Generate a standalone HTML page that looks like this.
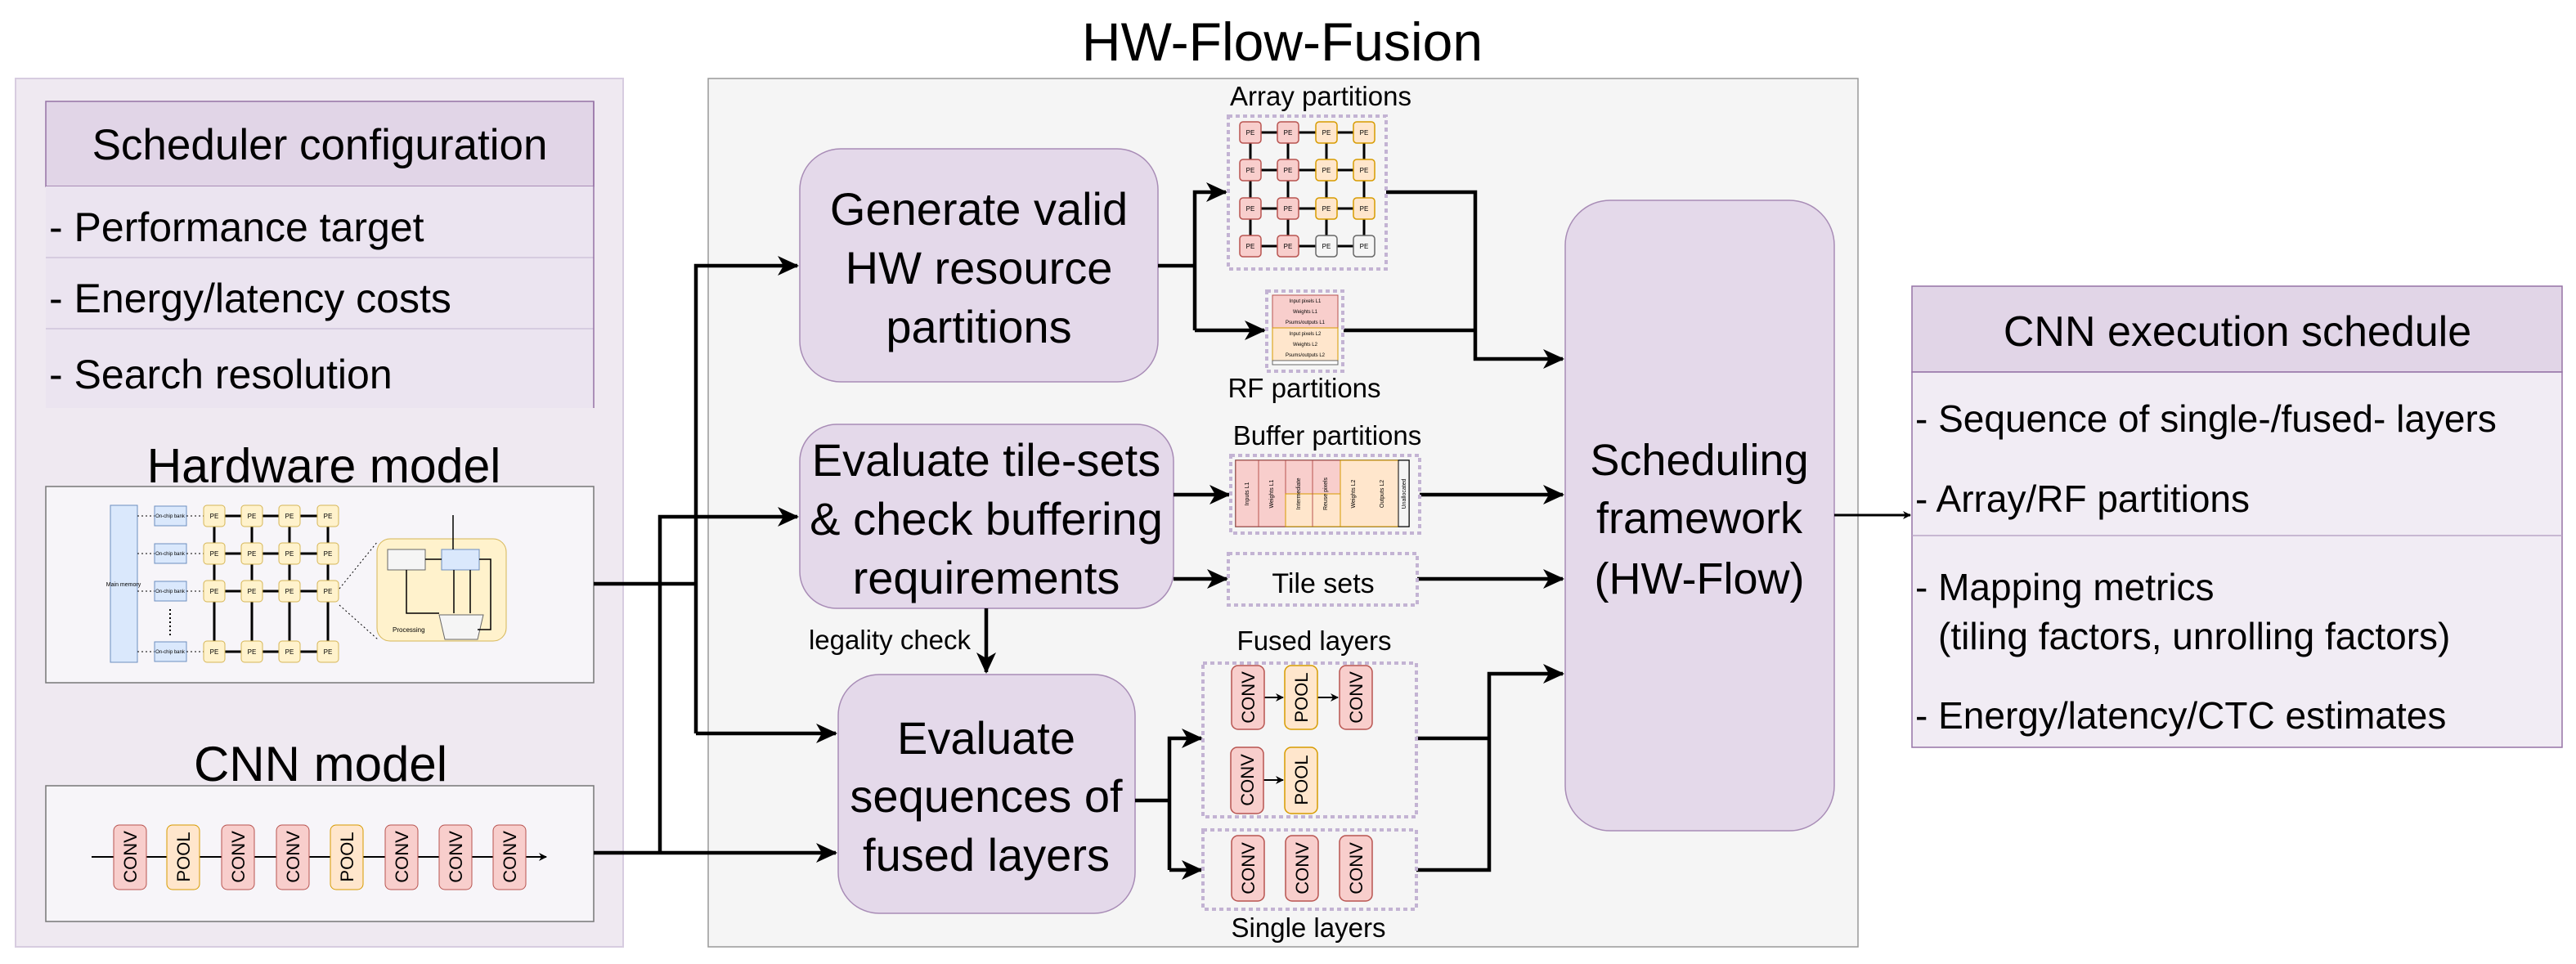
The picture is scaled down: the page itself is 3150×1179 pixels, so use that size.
<!DOCTYPE html>
<html><head><meta charset="utf-8"><style>
html,body{margin:0;padding:0;background:#fff;}
svg{display:block;font-family:"Liberation Sans",sans-serif;}
</style></head><body>
<svg width="3150" height="1179" viewBox="0 0 3150 1179" xmlns="http://www.w3.org/2000/svg">
<defs>
<marker id="a" markerWidth="10" markerHeight="10" refX="9" refY="5" orient="auto" markerUnits="userSpaceOnUse" viewBox="0 0 10 10">
<path d="M0,0 L10,5 L0,10 L3,5 z" fill="#000"/></marker>
<marker id="A" markerWidth="26" markerHeight="24" refX="24" refY="12" orient="auto" markerUnits="userSpaceOnUse" viewBox="0 0 26 24">
<path d="M0,0 L26,12 L0,24 L7,12 z" fill="#000"/></marker>
</defs>

<text x="1568" y="74" font-size="66" text-anchor="middle">HW-Flow-Fusion</text>

<!-- Left panel -->
<rect x="19" y="96" width="743" height="1062" fill="#efe9f1" stroke="#d7cce0" stroke-width="2"/>
<rect x="56" y="124" width="670" height="104" fill="#e1d5e7" stroke="#9673a6" stroke-width="1.5"/>
<rect x="56" y="228" width="670" height="271" fill="#ebe4f0"/>
<line x1="56" y1="315" x2="726" y2="315" stroke="#d0c4da" stroke-width="1.5"/>
<line x1="56" y1="402" x2="726" y2="402" stroke="#d0c4da" stroke-width="1.5"/>
<line x1="726" y1="124" x2="726" y2="499" stroke="#9673a6" stroke-width="1.5"/>
<text x="391" y="195" font-size="53" text-anchor="middle">Scheduler configuration</text>
<text x="60" y="295" font-size="50">- Performance target</text>
<text x="60" y="382" font-size="50">- Energy/latency costs</text>
<text x="60" y="475" font-size="50">- Search resolution</text>

<text x="396" y="590" font-size="59" text-anchor="middle">Hardware model</text>
<rect x="56" y="595" width="670" height="240" fill="#f7f5f9" stroke="#777" stroke-width="1.5"/>
<!-- hw mini diagram -->
<rect x="135" y="618" width="33" height="192" fill="#dae8fc" stroke="#6c8ebf"/>
<text x="151" y="717" font-size="7" text-anchor="middle">Main memory</text>
<g fill="#dae8fc" stroke="#6c8ebf">
<rect x="189" y="619" width="39" height="24"/><rect x="189" y="665" width="39" height="24"/>
<rect x="189" y="711" width="39" height="24"/><rect x="189" y="785" width="39" height="24"/></g>
<g font-size="6" text-anchor="middle"><text x="208" y="633">On-chip bank</text><text x="208" y="679">On-chip bank</text><text x="208" y="725">On-chip bank</text><text x="208" y="799">On-chip bank</text></g>
<g stroke="#000" stroke-width="1" stroke-dasharray="2,3">
<line x1="168" y1="631" x2="189" y2="631"/><line x1="168" y1="677" x2="189" y2="677"/><line x1="168" y1="723" x2="189" y2="723"/><line x1="168" y1="797" x2="189" y2="797"/>
<line x1="228" y1="631" x2="249" y2="631"/><line x1="228" y1="677" x2="249" y2="677"/><line x1="228" y1="723" x2="249" y2="723"/><line x1="228" y1="797" x2="249" y2="797"/>
<line x1="415" y1="720" x2="462" y2="662"/><line x1="415" y1="740" x2="462" y2="782"/>
<line x1="208" y1="745" x2="208" y2="780" stroke-width="2"/></g>
<g stroke="#000" stroke-width="3">
<line x1="262" y1="631" x2="401" y2="631"/><line x1="262" y1="677" x2="401" y2="677"/><line x1="262" y1="723" x2="401" y2="723"/><line x1="262" y1="797" x2="401" y2="797"/>
<line x1="262" y1="631" x2="262" y2="797"/><line x1="308" y1="631" x2="308" y2="797"/><line x1="354" y1="631" x2="354" y2="797"/><line x1="401" y1="631" x2="401" y2="797"/></g>
<g fill="#fff2cc" stroke="#d6b656">
<rect x="249" y="618" width="26" height="26" rx="4"/><rect x="295" y="618" width="26" height="26" rx="4"/><rect x="341" y="618" width="26" height="26" rx="4"/><rect x="388" y="618" width="26" height="26" rx="4"/>
<rect x="249" y="664" width="26" height="26" rx="4"/><rect x="295" y="664" width="26" height="26" rx="4"/><rect x="341" y="664" width="26" height="26" rx="4"/><rect x="388" y="664" width="26" height="26" rx="4"/>
<rect x="249" y="710" width="26" height="26" rx="4"/><rect x="295" y="710" width="26" height="26" rx="4"/><rect x="341" y="710" width="26" height="26" rx="4"/><rect x="388" y="710" width="26" height="26" rx="4"/>
<rect x="249" y="784" width="26" height="26" rx="4"/><rect x="295" y="784" width="26" height="26" rx="4"/><rect x="341" y="784" width="26" height="26" rx="4"/><rect x="388" y="784" width="26" height="26" rx="4"/>
<rect x="461" y="659" width="158" height="125" rx="16"/></g>
<g font-size="8" text-anchor="middle"><text x="262" y="634">PE</text><text x="308" y="634">PE</text><text x="354" y="634">PE</text><text x="401" y="634">PE</text>
<text x="262" y="680">PE</text><text x="308" y="680">PE</text><text x="354" y="680">PE</text><text x="401" y="680">PE</text>
<text x="262" y="726">PE</text><text x="308" y="726">PE</text><text x="354" y="726">PE</text><text x="401" y="726">PE</text>
<text x="262" y="800">PE</text><text x="308" y="800">PE</text><text x="354" y="800">PE</text><text x="401" y="800">PE</text></g>
<rect x="474" y="672" width="46" height="25" fill="#f5f5f5" stroke="#666"/>
<rect x="540" y="672" width="46" height="25" fill="#dae8fc" stroke="#6c8ebf"/>
<path d="M537,752 L591,752 L584,782 L544,782 z" fill="#f5f5f5" stroke="#666"/>
<g stroke="#000" stroke-width="1.5" fill="none"><polyline points="520,684 540,684"/><polyline points="497,697 497,750 537,750"/><polyline points="555,697 555,750"/><polyline points="575,697 575,750"/><polyline points="554,630 554,672"/><polyline points="584,770 600,770 600,684 586,684"/></g>
<text x="480" y="773" font-size="8">Processing</text>

<text x="392" y="955" font-size="60" text-anchor="middle">CNN model</text>
<rect x="56" y="961" width="670" height="166" fill="#f7f5f9" stroke="#777" stroke-width="1.5"/>
<line x1="112" y1="1048" x2="668" y2="1048" stroke="#000" stroke-width="2" marker-end="url(#a)"/>
<g font-size="22" text-anchor="middle">
<g fill="#f8cecc" stroke="#b85450"><rect x="139" y="1009" width="40" height="79" rx="7"/><rect x="271" y="1009" width="40" height="79" rx="7"/><rect x="338" y="1009" width="40" height="79" rx="7"/><rect x="471" y="1009" width="40" height="79" rx="7"/><rect x="537" y="1009" width="40" height="79" rx="7"/><rect x="603" y="1009" width="40" height="79" rx="7"/></g>
<g fill="#ffe6cc" stroke="#d79b00"><rect x="204" y="1009" width="40" height="79" rx="7"/><rect x="404" y="1009" width="40" height="79" rx="7"/></g>
<text transform="translate(167,1048) rotate(-90)">CONV</text>
<text transform="translate(232,1048) rotate(-90)">POOL</text>
<text transform="translate(299,1048) rotate(-90)">CONV</text>
<text transform="translate(366,1048) rotate(-90)">CONV</text>
<text transform="translate(432,1048) rotate(-90)">POOL</text>
<text transform="translate(499,1048) rotate(-90)">CONV</text>
<text transform="translate(565,1048) rotate(-90)">CONV</text>
<text transform="translate(631,1048) rotate(-90)">CONV</text>
</g>

<!-- middle panel -->
<rect x="866" y="96" width="1406" height="1062" fill="#f5f5f5" stroke="#999" stroke-width="1.5"/>

<g fill="#e4d9ea" stroke="#a88cb6" stroke-width="1.5">
<rect x="978" y="182" width="438" height="285" rx="50"/>
<rect x="978" y="519" width="457" height="225" rx="45"/>
<rect x="1025" y="825" width="363" height="292" rx="50"/>
<rect x="1914" y="245" width="329" height="771" rx="55"/>
</g>
<g font-size="56" text-anchor="middle">
<text x="1197" y="275">Generate valid</text>
<text x="1197" y="347">HW resource</text>
<text x="1197" y="419">partitions</text>
<text x="1206" y="582">Evaluate tile-sets</text>
<text x="1206" y="654">&amp; check buffering</text>
<text x="1206" y="726">requirements</text>
<text x="1206" y="922">Evaluate</text>
<text x="1206" y="993">sequences of</text>
<text x="1206" y="1065">fused layers</text>
</g>
<g font-size="54" text-anchor="middle">
<text x="2078" y="581">Scheduling</text>
<text x="2078" y="652">framework</text>
<text x="2078" y="726">(HW-Flow)</text>
</g>
<text x="1088" y="794" font-size="33" text-anchor="middle">legality check</text>

<!-- connectors -->
<g stroke="#000" stroke-width="4.5" fill="none">
<polyline points="726,714 851,714"/>
<polyline points="851,897 851,325 975,325" marker-end="url(#A)"/>
<polyline points="851,897 1022,897" marker-end="url(#A)"/>
<polyline points="726,1043 1022,1043" marker-end="url(#A)"/>
<polyline points="807,1043 807,632 975,632" marker-end="url(#A)"/>
<polyline points="1416,325 1461,325"/>
<polyline points="1461,404 1461,235 1499,235" marker-end="url(#A)"/>
<polyline points="1461,404 1546,404" marker-end="url(#A)"/>
<polyline points="1695,235 1804,235 1804,439 1911,439" marker-end="url(#A)"/>
<polyline points="1643,404 1804,404"/>
<polyline points="1435,605 1503,605" marker-end="url(#A)"/>
<polyline points="1435,708 1500,708" marker-end="url(#A)"/>
<polyline points="1736,605 1911,605" marker-end="url(#A)"/>
<polyline points="1733,708 1911,708" marker-end="url(#A)"/>
<polyline points="1206,744 1206,822" marker-end="url(#A)"/>
<polyline points="1388,979 1430,979"/>
<polyline points="1430,1064 1430,903 1469,903" marker-end="url(#A)"/>
<polyline points="1430,1064 1469,1064" marker-end="url(#A)"/>
<polyline points="1732,903 1821,903"/>
<polyline points="1732,1064 1821,1064 1821,824 1911,824" marker-end="url(#A)"/>
</g>
<line x1="2243" y1="630" x2="2336" y2="630" stroke="#000" stroke-width="3" marker-end="url(#a)"/>

<!-- array partitions -->
<text x="1615" y="129" font-size="33" text-anchor="middle">Array partitions</text>
<rect x="1502" y="142" width="193" height="187" fill="none" stroke="#c3b3d3" stroke-width="4" stroke-dasharray="5,4"/>
<g stroke="#000" stroke-width="3">
<line x1="1529" y1="162" x2="1668" y2="162"/><line x1="1529" y1="208" x2="1668" y2="208"/><line x1="1529" y1="255" x2="1668" y2="255"/><line x1="1529" y1="301" x2="1668" y2="301"/>
<line x1="1529" y1="162" x2="1529" y2="301"/><line x1="1575" y1="162" x2="1575" y2="301"/><line x1="1622" y1="162" x2="1622" y2="301"/><line x1="1668" y1="162" x2="1668" y2="301"/></g>
<g stroke-width="1.5">
<g fill="#f8cecc" stroke="#b85450">
<rect x="1516" y="149" width="26" height="26" rx="4"/><rect x="1562" y="149" width="26" height="26" rx="4"/>
<rect x="1516" y="195" width="26" height="26" rx="4"/><rect x="1562" y="195" width="26" height="26" rx="4"/>
<rect x="1516" y="242" width="26" height="26" rx="4"/><rect x="1562" y="242" width="26" height="26" rx="4"/>
<rect x="1516" y="288" width="26" height="26" rx="4"/><rect x="1562" y="288" width="26" height="26" rx="4"/></g>
<g fill="#ffe6cc" stroke="#d79b00">
<rect x="1609" y="149" width="26" height="26" rx="4"/><rect x="1655" y="149" width="26" height="26" rx="4"/>
<rect x="1609" y="195" width="26" height="26" rx="4"/><rect x="1655" y="195" width="26" height="26" rx="4"/>
<rect x="1609" y="242" width="26" height="26" rx="4"/><rect x="1655" y="242" width="26" height="26" rx="4"/></g>
<g fill="#f5f5f5" stroke="#666"><rect x="1609" y="288" width="26" height="26" rx="4"/><rect x="1655" y="288" width="26" height="26" rx="4"/></g>
</g>
<g font-size="8" text-anchor="middle">
<text x="1529" y="165">PE</text><text x="1575" y="165">PE</text><text x="1622" y="165">PE</text><text x="1668" y="165">PE</text>
<text x="1529" y="211">PE</text><text x="1575" y="211">PE</text><text x="1622" y="211">PE</text><text x="1668" y="211">PE</text>
<text x="1529" y="258">PE</text><text x="1575" y="258">PE</text><text x="1622" y="258">PE</text><text x="1668" y="258">PE</text>
<text x="1529" y="304">PE</text><text x="1575" y="304">PE</text><text x="1622" y="304">PE</text><text x="1668" y="304">PE</text></g>

<!-- RF partitions -->
<rect x="1549" y="356" width="93" height="98" fill="none" stroke="#c3b3d3" stroke-width="4" stroke-dasharray="5,4"/>
<rect x="1556" y="361" width="80" height="40" fill="#f8cecc" stroke="#b85450"/>
<rect x="1556" y="401" width="80" height="40" fill="#ffe6cc" stroke="#d79b00"/>
<rect x="1556" y="441" width="80" height="5" fill="#fff" stroke="#666"/>
<g font-size="6" text-anchor="middle"><text x="1596" y="370">Input pixels L1</text><text x="1596" y="383">Weights L1</text><text x="1596" y="396">Psums/outputs L1</text><text x="1596" y="410">Input pixels L2</text><text x="1596" y="423">Weights L2</text><text x="1596" y="436">Psums/outputs L2</text></g>
<text x="1595" y="486" font-size="33" text-anchor="middle">RF partitions</text>

<!-- Buffer partitions -->
<text x="1623" y="544" font-size="33" text-anchor="middle">Buffer partitions</text>
<rect x="1505" y="557" width="231" height="95" fill="none" stroke="#c3b3d3" stroke-width="4" stroke-dasharray="5,4"/>
<rect x="1511" y="563" width="212" height="81" fill="#fff" stroke="#000" stroke-width="1.5"/>
<rect x="1511" y="563" width="61" height="81" fill="#f8cecc" stroke="#b85450"/>
<line x1="1539" y1="563" x2="1539" y2="644" stroke="#b85450"/>
<rect x="1572" y="563" width="67" height="41" fill="#f8cecc" stroke="#b85450"/>
<rect x="1572" y="604" width="67" height="40" fill="#ffe6cc" stroke="#d79b00"/>
<line x1="1605" y1="563" x2="1605" y2="644" stroke="#b85450"/>
<rect x="1639" y="563" width="71" height="81" fill="#ffe6cc" stroke="#d79b00"/>
<rect x="1710" y="563" width="13" height="81" fill="#f5f5f5" stroke="#000"/>
<g font-size="7" text-anchor="middle">
<text transform="translate(1527,604) rotate(-90)">Inputs L1</text>
<text transform="translate(1557,604) rotate(-90)">Weights L1</text>
<text transform="translate(1590,604) rotate(-90)">Intermediate</text>
<text transform="translate(1623,604) rotate(-90)">Reuse pixels</text>
<text transform="translate(1657,604) rotate(-90)">Weights L2</text>
<text transform="translate(1692,604) rotate(-90)">Outputs L2</text>
<text transform="translate(1719,604) rotate(-90)">Unallocated</text></g>

<!-- Tile sets -->
<rect x="1502" y="677" width="231" height="63" fill="none" stroke="#c3b3d3" stroke-width="4" stroke-dasharray="5,4"/>
<text x="1618" y="725" font-size="34" text-anchor="middle">Tile sets</text>

<!-- Fused layers -->
<text x="1607" y="795" font-size="33" text-anchor="middle">Fused layers</text>
<rect x="1471" y="811" width="261" height="188" fill="none" stroke="#c3b3d3" stroke-width="4" stroke-dasharray="5,4"/>
<rect x="1471" y="1015" width="261" height="97" fill="none" stroke="#c3b3d3" stroke-width="4" stroke-dasharray="5,4"/>
<text x="1600" y="1146" font-size="33" text-anchor="middle">Single layers</text>
<g stroke="#000" stroke-width="2">
<line x1="1546" y1="853" x2="1569" y2="853" marker-end="url(#a)"/>
<line x1="1611" y1="853" x2="1636" y2="853" marker-end="url(#a)"/>
<line x1="1545" y1="954" x2="1569" y2="954" marker-end="url(#a)"/></g>
<g stroke-width="1.5">
<g fill="#f8cecc" stroke="#b85450">
<rect x="1506" y="814" width="40" height="78" rx="8"/><rect x="1638" y="814" width="40" height="78" rx="8"/>
<rect x="1505" y="914" width="40" height="81" rx="8"/>
<rect x="1506" y="1022" width="40" height="80" rx="8"/><rect x="1572" y="1022" width="40" height="80" rx="8"/><rect x="1638" y="1022" width="40" height="80" rx="8"/></g>
<g fill="#ffe6cc" stroke="#d79b00">
<rect x="1571" y="814" width="40" height="78" rx="8"/><rect x="1571" y="914" width="40" height="81" rx="8"/></g></g>
<g font-size="22" text-anchor="middle">
<text transform="translate(1534,853) rotate(-90)">CONV</text>
<text transform="translate(1599,853) rotate(-90)">POOL</text>
<text transform="translate(1666,853) rotate(-90)">CONV</text>
<text transform="translate(1533,954) rotate(-90)">CONV</text>
<text transform="translate(1599,954) rotate(-90)">POOL</text>
<text transform="translate(1534,1062) rotate(-90)">CONV</text>
<text transform="translate(1600,1062) rotate(-90)">CONV</text>
<text transform="translate(1666,1062) rotate(-90)">CONV</text></g>

<!-- Output table -->
<rect x="2338" y="350" width="795" height="105" fill="#e1d5e7" stroke="#9673a6" stroke-width="1.5"/>
<rect x="2338" y="455" width="795" height="459" fill="#f1ecf4" stroke="#9673a6" stroke-width="1.5"/>
<line x1="2338" y1="655" x2="3133" y2="655" stroke="#b9a6c6" stroke-width="1.5"/>
<text x="2736" y="423" font-size="52" text-anchor="middle">CNN execution schedule</text>
<g font-size="46">
<text x="2342" y="528">- Sequence of single-/fused- layers</text>
<text x="2342" y="626">- Array/RF partitions</text>
<text x="2342" y="734">- Mapping metrics</text>
<text x="2370" y="794">(tiling factors, unrolling factors)</text>
<text x="2342" y="891">- Energy/latency/CTC estimates</text>
</g>
</svg>
</body></html>
